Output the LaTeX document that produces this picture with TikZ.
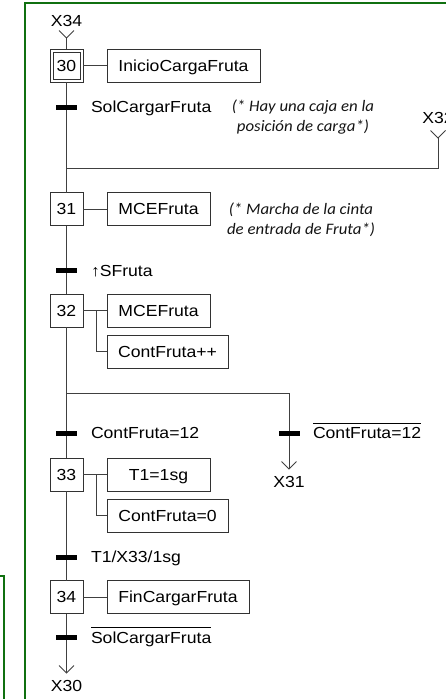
\documentclass[tikz,border=0pt]{standalone}
\usepackage{fontspec}
\setmainfont{Liberation Sans}[FakeStretch=1.1]
\newfontfamily\notefont{Carlito}[FakeStretch=1.05]
\definecolor{wirecol}{RGB}{64,64,64}
\definecolor{boxcol}{RGB}{50,50,50}
\definecolor{notecol}{RGB}{20,20,20}
\definecolor{framegreen}{RGB}{16,112,16}
% text with a bar above it (negated receptivity)
\newcommand\ovl[1]{\setbox0\hbox{#1}\rlap{\rule[15pt]{\wd0}{0.9pt}}\box0}
\begin{document}
\begin{tikzpicture}[x=1pt,y=-1pt,
  every node/.style={font=\fontsize{16}{19}\selectfont, inner sep=0pt, outer sep=0pt,
    text height=11.5pt, text depth=0pt},
  wire/.style={draw=wirecol, line width=1pt},
  stepbox/.style={draw=boxcol, line width=1pt, minimum width=33pt, minimum height=33pt, fill=white},
  actbox/.style={draw=boxcol, line width=1pt, minimum height=33pt, anchor=west, fill=white},
  bar/.style={fill=black, minimum width=21pt, minimum height=5pt, text height=, text depth=},
  lbl/.style={anchor=west},
  note/.style={font=\notefont\itshape\fontsize{16}{20}\selectfont, align=center, text=notecol,
    text height=, text depth=},
  frame/.style={draw=framegreen, line width=2pt},
]
\useasboundingbox (0,0) rectangle (446,699);
\clip (0,0) rectangle (446,699);

% surrounding frames
\draw[frame] (25,3) rectangle (480,740);
\draw[frame] (-40,576) rectangle (4,740);

% ---- steps
\node[stepbox] (s30) at (66.5,65.5) {30};
\draw[boxcol, line width=0.8pt] ([shift={(3,3)}]s30.north west) rectangle ([shift={(-3,-3)}]s30.south east);
\node[stepbox] (s31) at (66.5,209) {31};
\node[stepbox] (s32) at (66.5,310.5) {32};
\node[stepbox] (s33) at (66.5,474.5) {33};
\node[stepbox] (s34) at (66.5,597) {34};

% ---- actions
\node[actbox, minimum width=153pt] (a30) at (107,65.5) {InicioCargaFruta};
\node[actbox, minimum width=103pt] (a31) at (107,209) {MCEFruta};
\node[actbox, minimum width=103pt] (a32a) at (107,310.5) {MCEFruta};
\node[actbox, minimum width=121pt] (a32b) at (107,351.5) {ContFruta++};
\node[actbox, minimum width=103pt] (a33a) at (107,474.5) {T1=1sg};
\node[actbox, minimum width=121pt] (a33b) at (107,515.5) {ContFruta=0};
\node[actbox, minimum width=142pt] (a34) at (107,597) {FinCargarFruta};

\coordinate (j32) at (96,310.5);
\coordinate (j33) at (96,474.5);
\draw[wire] (s30) -- (a30);
\draw[wire] (s31) -- (a31);
\draw[wire] (s32) -- (a32a);
\draw[wire] (j32) |- (a32b);
\draw[wire] (s33) -- (a33a);
\draw[wire] (j33) |- (a33b);
\draw[wire] (s34) -- (a34);

% ---- entry / exit references
\node (x34) at (66.5,21) {X34};
\coordinate (x34v) at (66.5,38);
\draw[wire] (x34v) -- (s30);
\draw[wire] ([shift={(-7.5,-7.5)}]x34v) -- (x34v) -- ++(7.5,-7.5);

\node (x32) at (438,118) {X32};
\coordinate (x32v) at (438,138);
\coordinate (m31) at (66.5,168);
\draw[wire] (x32v) |- (m31);
\draw[wire] ([shift={(-7.5,-7.5)}]x32v) -- (x32v) -- ++(7.5,-7.5);

\coordinate (d32) at (66.5,393);
\coordinate (d32r) at (289,393);
\coordinate (x31v) at (289,469);
\node (x31) at (289,482) {X31};
\draw[wire] (d32) -- (d32r) -- (x31v);
\draw[wire] ([shift={(-7.5,-7.5)}]x31v) -- (x31v) -- ++(7.5,-7.5);

\coordinate (x30v) at (66.5,673);
\node (x30) at (66.5,686) {X30};
\draw[wire] ([shift={(-7.5,-7.5)}]x30v) -- (x30v) -- ++(7.5,-7.5);

% ---- main sequence line
\draw[wire] (s30) -- (s31);
\draw[wire] (s31) -- (s32);
\draw[wire] (s32) -- (s33);
\draw[wire] (s33) -- (s34);
\draw[wire] (s34) -- (x30v);

% ---- transitions
\node[bar] (t30) at (66.5,107) {};
\node[lbl] (c30) at (91,107) {SolCargarFruta};
\node[bar] (t31) at (66.5,270.5) {};
\node[lbl] (c31) at (91,270.5) {↑SFruta};
\node[bar] (t32a) at (66.5,433) {};
\node[lbl] (c32a) at (91,433) {ContFruta=12};
\node[bar] (t32b) at (289,433) {};
\node[lbl] (c32b) at (313,433) {\ovl{ContFruta=12}};
\node[bar] (t33) at (66.5,557) {};
\node[lbl] (c33) at (91,557) {T1/X33/1sg};
\node[bar] (t34) at (66.5,637.5) {};
\node[lbl] (c34) at (91,637.5) {\ovl{SolCargarFruta}};

% ---- comments
\node[note] (n30) at (303,117.5) {(* Hay una caja en la\\posición de carga*)};
\node[note] (n31) at (301,219.5) {(* Marcha de la cinta\\de entrada de Fruta*)};
\end{tikzpicture}
\end{document}
